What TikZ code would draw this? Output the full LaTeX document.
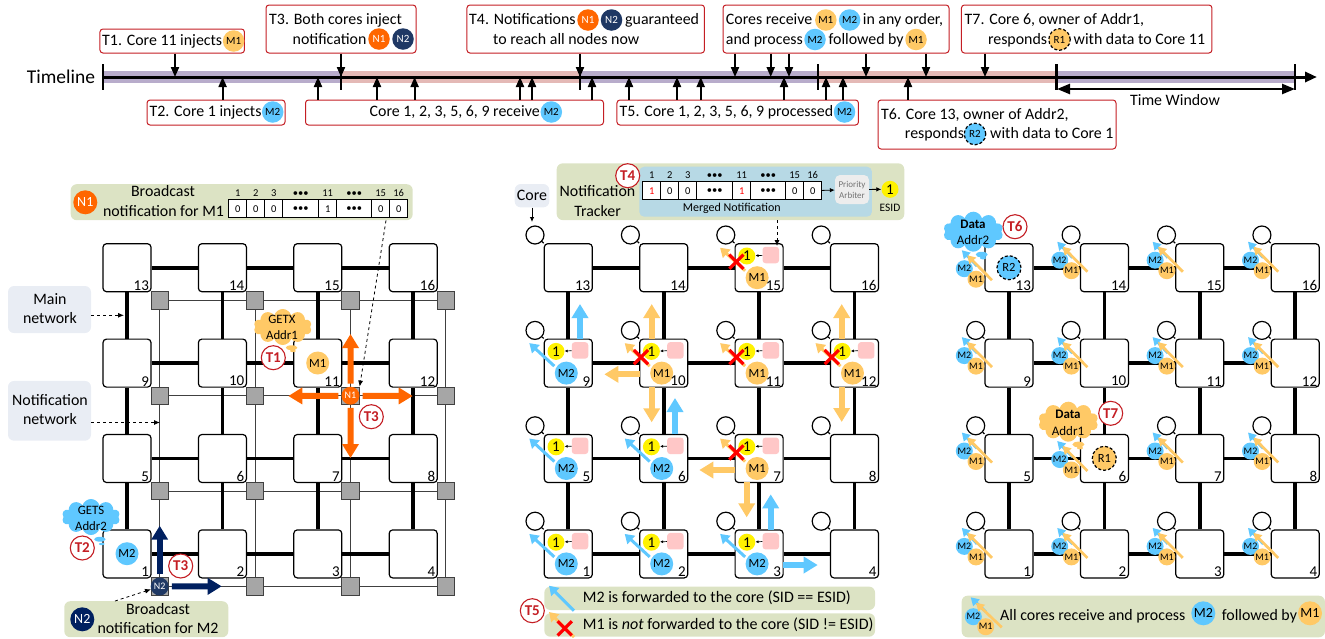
\documentclass[tikz,border=0pt]{standalone}
\usepackage{fontspec}
\setmainfont{Carlito}
\usepackage{tikz}
\usetikzlibrary{calc, shapes, arrows.meta}
\definecolor{cgold}{HTML}{FFC966}
\definecolor{cblue}{HTML}{5FC8FF}
\definecolor{corange}{HTML}{FF6600}
\definecolor{cnavy}{HTML}{002060}
\definecolor{cdark}{HTML}{1F3864}
\definecolor{cpanel}{HTML}{DCE3C4}
\definecolor{cnote}{HTML}{E9EDF4}
\definecolor{cbadge}{HTML}{C41E24}
\definecolor{cinner}{HTML}{B7D9E5}
\definecolor{cpink}{HTML}{FFC7C7}
\definecolor{bandone}{HTML}{B8ACCB}
\definecolor{bandtwo}{HTML}{E4B9B6}

\begin{document}
\begin{tikzpicture}[x=1pt,y=-1pt]
\tikzstyle{event}=[rectangle,draw=cbadge,fill=white,rounded corners=3pt,line width=1pt,inner sep=0]
\tikzstyle{txt}=[anchor=west,inner sep=0,font=\fontsize{15.9}{18}\selectfont,text height=10pt,text depth=1pt]
\tikzstyle{mid}=[anchor=center,inner sep=0,font=\fontsize{15.9}{18}\selectfont,text height=10pt,text depth=1pt]
\tikzstyle{tlmsg}=[circle,minimum size=21.5pt,inner sep=0,font=\fontsize{11}{12}\selectfont]
\tikzstyle{resp}=[circle,minimum size=21.5pt,inner sep=0,draw=black,densely dashed,line width=1.2pt,font=\fontsize{11}{12}\selectfont]
\tikzstyle{tickdown}=[line width=2pt,-{Triangle[length=10pt,width=8pt]}]
\tikzstyle{tickbar}=[line width=2.4pt]
\tikzstyle{router}=[rectangle,draw=black,fill=white,rounded corners=3.5pt,line width=1.2pt,minimum size=48pt,inner sep=0]
\tikzstyle{nodeid}=[anchor=south east,inner sep=0,font=\fontsize{15}{16}\selectfont]
\tikzstyle{mainlink}=[line width=3.8pt]
\tikzstyle{noc}=[rectangle,draw=black!75,fill=black!35,line width=.8pt,minimum size=17.5pt,inner sep=0]
\tikzstyle{noclink}=[line width=.9pt,draw=black!75]
\tikzstyle{block}=[line width=6pt,-{Triangle[length=14pt,width=16pt]}]
\tikzstyle{fwd}=[line width=3pt,-{Triangle[length=9pt,width=11pt]}]
\tikzstyle{badge}=[circle,draw=cbadge,fill=white,line width=1.1pt,minimum size=24pt,inner sep=0,text=cbadge,font=\fontsize{15}{16}\selectfont\bfseries]
\tikzstyle{msg}=[circle,minimum size=23pt,inner sep=0,font=\fontsize{12.5}{14}\selectfont]
\tikzstyle{minimsg}=[circle,minimum size=17pt,inner sep=0,font=\fontsize{10}{11}\selectfont]
\tikzstyle{panel}=[rectangle,fill=cpanel,rounded corners=6pt,inner sep=0]
\tikzstyle{note}=[rectangle,fill=cnote,rounded corners=6pt,inner sep=0]
\tikzstyle{pointer}=[dashed,line width=.8pt,-{Latex[length=6pt,width=5pt]}]
\tikzstyle{solidptr}=[line width=.8pt,-{Latex[length=5pt,width=4.5pt]}]
\tikzstyle{cell}=[rectangle,draw=black,fill=white,line width=.8pt,minimum height=18pt,anchor=north west,inner sep=0,font=\fontsize{10.5}{11}\selectfont]
\tikzstyle{cellhead}=[anchor=base,inner sep=0,font=\fontsize{10.5}{11}\selectfont]
\tikzstyle{bubble}=[cloud callout,cloud puffs=10,cloud ignores aspect,minimum width=58pt,minimum height=36pt,inner sep=0,callout pointer segments=2,callout pointer start size=.3 of callout]
\tikzstyle{small}=[anchor=center,inner sep=0,font=\fontsize{12.8}{14}\selectfont]
\tikzstyle{coreport}=[circle,draw=black,fill=white,line width=1.2pt,minimum size=18pt,inner sep=0]
\tikzstyle{pend}=[rectangle,fill=cpink,rounded corners=3pt,minimum size=16.5pt,inner sep=0]
\tikzstyle{esid}=[circle,fill=yellow,minimum size=17pt,inner sep=0,font=\fontsize{15}{16}\selectfont]
\tikzstyle{crossmark}=[cross out,draw=red,line width=3.2pt,minimum size=11pt,inner sep=0]

\useasboundingbox (0,0) rectangle (1325,638);

\foreach \bx/\bw/\bc in {103/238/bandone,341/239/bandtwo,580/238/bandone,818/238.5/bandtwo,1056.5/238.5/bandone}{
  \fill[\bc] (\bx,71) rectangle ++(\bw,12);
}
\coordinate (tlstart) at (103,77);
\coordinate (tlend) at (1317,77);
\draw[line width=3pt,-{Triangle[length=12pt,width=10pt]}] (tlstart) -- (tlend);
\foreach \x in {103,818,1056.5,1295}{\draw[tickbar] (\x,64) -- (\x,90);}
\foreach \x in {341,580}{\draw[tickbar] (\x,71) -- (\x,90);}
\node[anchor=center,inner sep=0,font=\fontsize{19.5}{20}\selectfont] (tltext) at (61,77) {Timeline};
\node[mid] (twtext) at (1175,101) {Time Window};
\coordinate (twa) at (1057,89);
\coordinate (twb) at (1295,89);
\draw[line width=2.4pt,{Triangle[length=13pt,width=10pt]}-{Triangle[length=13pt,width=10pt]}] (twa) -- (twb);

\node[event,minimum width=144.5pt,minimum height=24pt] (e1) at (172.2,41) {};
\node[event,minimum width=150pt,minimum height=48pt] (e3) at (341,29) {};
\node[event,minimum width=237.5pt,minimum height=48pt] (e4) at (585.7,29) {};
\node[event,minimum width=226pt,minimum height=48pt] (e5) at (836,29) {};
\node[event,minimum width=250.5pt,minimum height=48pt] (e7) at (1086.7,29) {};
\node[event,minimum width=138pt,minimum height=25pt] (e2) at (216,112.5) {};
\node[event,minimum width=298pt,minimum height=25pt] (e8) at (454.5,112.5) {};
\node[event,minimum width=241.5pt,minimum height=25pt] (e9) at (737.7,112.5) {};
\node[event,minimum width=238pt,minimum height=49pt] (e6) at (997,124.5) {};

\foreach \x/\e in {175/e1,341/e3,580/e4,735/e5,770.7/e5,789/e5,866/e5,926/e5,985/e7}{
  \draw[tickdown] (\x,0 |- \e.south) -- (\x,0 |- tlstart);
}
\foreach \x/\e in {222.6/e2,318/e8,377/e8,414.6/e8,520/e8,532/e8,592/e8,629/e9,677/e9,700.7/e9,784/e9,826/e9,843/e9,908/e6}{
  \draw[tickdown] (\x,0 |- \e.north) -- (\x,0 |- tlstart);
}

\node[txt] (t1a) at (102,41) {T1. Core 11 injects};
\node[tlmsg,fill=cgold] (t1m) at (233.6,41) {M1};
\node[txt] (t3a) at (269,20) {T3. Both cores inject};
\node[txt] (t3b) at (292.5,39.5) {notification};
\node[tlmsg,fill=corange,text=white] (t3n) at (379,39) {N1};
\node[tlmsg,fill=cdark,text=white] (t3o) at (403,39) {N2};
\node[txt] (t4a) at (469,20) {T4. Notifications};
\node[tlmsg,fill=corange,text=white] (t4n) at (588,20) {N1};
\node[tlmsg,fill=cdark,text=white] (t4o) at (611.5,20) {N2};
\node[txt] (t4b) at (625,20) {guaranteed};
\node[txt] (t4c) at (493,39.5) {to reach all nodes now};
\node[txt] (t5a) at (725.7,20) {Cores receive};
\node[tlmsg,fill=cgold] (t5m) at (825.8,20) {M1};
\node[tlmsg,fill=cblue] (t5n) at (849.6,20) {M2};
\node[txt] (t5b) at (862.7,20) {in any order,};
\node[txt] (t5c) at (725.7,39.5) {and process};
\node[tlmsg,fill=cblue] (t5o) at (815,39.5) {M2};
\node[txt] (t5d) at (828.4,39.5) {followed by};
\node[tlmsg,fill=cgold] (t5p) at (916,39.5) {M1};
\node[txt] (t7a) at (964.5,20) {T7. Core 6, owner of Addr1,};
\node[txt] (t7b) at (987.8,39.5) {responds};
\node[resp,fill=cgold] (t7r) at (1059.5,39.5) {R1};
\node[txt] (t7c) at (1073.5,39.5) {with data to Core 11};
\node[txt] (t2a) at (149.4,112) {T2. Core 1 injects};
\node[tlmsg,fill=cblue] (t2m) at (272.7,112) {M2};
\node[txt] (t8a) at (369.5,112) {Core 1, 2, 3, 5, 6, 9 receive};
\node[tlmsg,fill=cblue] (t8m) at (551.3,112) {M2};
\node[txt] (t9a) at (619.5,112) {T5. Core 1, 2, 3, 5, 6, 9 processed};
\node[tlmsg,fill=cblue] (t9m) at (844.5,112) {M2};
\node[txt] (t6a) at (881,115.3) {T6. Core 13, owner of Addr2,};
\node[txt] (t6b) at (904.7,134) {responds};
\node[resp,fill=cblue] (t6r) at (975,134) {R2};
\node[txt] (t6c) at (990,134) {with data to Core 1};

\foreach \row in {0,1,2,3}{
  \foreach \col in {0,1,2,3}{
    \pgfmathtruncatemacro{\n}{13-4*\row+\col}
    \node[noc] (s\n) at (159.7+95.4*\col,300.3+95.4*\row) {};
  }
}
\foreach \n in {1,2,3,5,6,7,9,10,11,13,14,15}{
  \pgfmathtruncatemacro{\k}{\n+1}
  \draw[noclink] (s\n) -- (s\k);
}
\foreach \n in {1,...,12}{
  \pgfmathtruncatemacro{\k}{\n+4}
  \draw[noclink] (s\n) -- (s\k);
}
\foreach \m/\ox in {a/127,b/568.3,c/1009}{
  \foreach \row in {0,1,2,3}{
    \foreach \col in {0,1,2,3}{
      \pgfmathtruncatemacro{\n}{13-4*\row+\col}
      \node[router] (\m\n) at (\ox+95.4*\col,267.7+95.4*\row) {};
    }
  }
  \foreach \n in {1,2,3,5,6,7,9,10,11,13,14,15}{
    \pgfmathtruncatemacro{\k}{\n+1}
    \draw[mainlink] (\m\n) -- (\m\k);
  }
  \foreach \n in {1,...,12}{
    \pgfmathtruncatemacro{\k}{\n+4}
    \draw[mainlink] (\m\n) -- (\m\k);
  }
}
\foreach \m in {b,c}{
  \foreach \n in {1,...,16}{
    \node[coreport] (\m p\n) at ($(\m\n)+(-33.3,-32.7)$) {};
    \draw[line width=1.2pt] (\m p\n) -- (\m\n.north west);
  }
}

\node[panel,minimum width=342pt,minimum height=36pt] (pna) at (241.7,202.2) {};
\node[msg,fill=corange,text=white,minimum size=24pt,font=\fontsize{14}{15}\selectfont] (pnan) at (85.3,202.3) {N1};
\node[mid] (pnaa) at (163,192) {Broadcast};
\node[mid] (pnab) at (163.5,212) {notification for M1};
\node[panel,minimum width=164pt,minimum height=36pt] (pnb) at (146.3,619.2) {};
\node[msg,fill=cnavy,text=white,minimum size=24pt,font=\fontsize{14}{15}\selectfont] (pnbn) at (82.3,619.3) {N2};
\node[mid] (pnba) at (158,610) {Broadcast};
\node[mid] (pnbb) at (158,629) {notification for M2};

\node[panel,minimum width=347.6pt,minimum height=56.7pt] (trk) at (730.5,191.7) {};
\node[rectangle,fill=cinner,rounded corners=5pt,minimum width=232.7pt,minimum height=50pt,inner sep=0] (trki) at (755.6,191.7) {};
\node[mid] (trka) at (597.5,192) {Notification};
\node[mid] (trkb) at (597.6,212.3) {Tracker};
\node[small,font=\fontsize{12}{13}\selectfont] (trkc) at (731.7,208.3) {Merged Notification};
\node[badge] (bt4) at (627.7,175.7) {T4};

\foreach \t/\ox/\oy/\first/\hue in {ta/228.3/199.3/0/black,tb/642.3/181.3/1/red}{
  \foreach \i/\cl/\cw/\head/\val/\tc in {1/0/18/1/\first/\hue,2/18/18/2/0/black,3/36/18/3/0/black,4/54/36/\textbullet\textbullet\textbullet/\textbullet\textbullet\textbullet/black,5/90/18/11/1/\hue,6/108/35/\textbullet\textbullet\textbullet/\textbullet\textbullet\textbullet/black,7/143/18/15/0/black,8/161/18/16/0/black}{
    \node[cell,minimum width=\cw pt,text=\tc] (\t c\i) at (\ox+\cl,\oy) {\val};
    \node[cellhead] (\t h\i) at ([yshift=3pt]\t c\i.north) {\head};
  }
}
\node[rectangle,fill=black!7,rounded corners=5pt,minimum width=34pt,minimum height=29pt,inner sep=0,text=black!55,align=center,font=\fontsize{9}{11}\selectfont] (arb) at (852,189.5) {Priority\\Arbiter};
\node[esid] (esd) at (890,189.3) {1};
\node[small,font=\fontsize{11.4}{12}\selectfont] (esdt) at (890,208.3) {ESID};
\draw[solidptr] (tbc8) -- (arb);
\draw[solidptr] (arb) -- (esd);

\node[note,minimum width=83pt,minimum height=47pt] (nmain) at (49.5,309.5) {};
\node[mid] (nmaina) at (50,300) {Main};
\node[mid] (nmainb) at (50,319) {network};
\node[note,minimum width=83pt,minimum height=59.7pt] (nnot) at (49.5,410.8) {};
\node[mid] (nnota) at (50,401) {Notification};
\node[mid] (nnotb) at (50,420) {network};
\node[note,minimum width=34.6pt,minimum height=23.3pt] (ncore) at (532,195.7) {};
\node[mid] (ncoret) at (532,196) {Core};
\coordinate (mainpt) at (124,315.3);
\coordinate (notpt) at (160,422.5);
\coordinate (corept) at (532,222);
\coordinate (trkpt) at (777,246);
\coordinate (tapt) at (386,220);
\coordinate (tbpt) at (115,601);
\draw[pointer] (nmain.east |- mainpt) -- (mainpt);
\draw[pointer] (nnot.east |- notpt) -- (notpt);
\draw[solidptr] (ncore) -- (corept);
\draw[pointer] (trk.south -| trkpt) -- (trkpt);

\node[msg,fill=cgold] (ma) at (317.7,363) {M1};
\node[msg,fill=cblue] (mb) at (127,553.7) {M2};
\node[circle,fill=corange,minimum size=18pt,inner sep=0,text=white,font=\fontsize{10}{11}\selectfont] (cn1) at (s11) {N1};
\node[circle,fill=cdark,minimum size=18pt,inner sep=0,text=white,font=\fontsize{10}{11}\selectfont] (cn2) at (s1) {N2};
\coordinate (nup) at (350.5,334);
\coordinate (nleft) at (288.3,396);
\coordinate (nright) at (412.7,396);
\coordinate (ndown) at (350.5,458);
\coordinate (oup) at (159.7,525.7);
\coordinate (oright) at (221.7,586.3);
\foreach \tgt in {nup,nleft,nright,ndown}{
  \draw[block,draw=corange,fill=corange,shorten <=3pt] (cn1) -- (\tgt);
}
\foreach \tgt in {oup,oright}{
  \draw[block,draw=cnavy,fill=cnavy,shorten <=3pt] (cn2) -- (\tgt);
}
\draw[pointer] (pna.south -| tapt) -- (s11.north east);
\draw[pointer] (pnb.north -| tbpt) -- (cn2);

\node[bubble,fill=cgold,callout absolute pointer={(293,351)}] (cla) at (282.7,327) {};
\node[small] (claa) at (282,319) {GETX};
\node[small] (clab) at (282,335) {Addr1};
\node[badge] (bt1) at (273.3,357.7) {T1};
\node[bubble,fill=cblue,callout absolute pointer={(101.7,544)}] (clb) at (91,517) {};
\node[small] (clba) at (91,510) {GETS};
\node[small] (clbb) at (91,526) {Addr2};
\node[badge] (bt2) at (82.3,548) {T2};
\node[badge] (bt3a) at (371.3,416.7) {T3};
\node[badge] (bt3b) at (180.7,566) {T3};

\foreach \n/\hue/\txt in {1/cblue/M2,2/cblue/M2,3/cblue/M2,5/cblue/M2,6/cblue/M2,9/cblue/M2,7/cgold/M1,10/cgold/M1,11/cgold/M1,12/cgold/M1,15/cgold/M1}{
  \coordinate (fs\n) at ($(b\n)+(-14,3)$);
  \coordinate (ft\n) at ($(b\n)+(-39,-20)$);
  \draw[fwd,draw=\hue,fill=\hue] (fs\n) -- (ft\n);
  \node[pend] (pk\n) at ($(b\n)+(11.7,-12.7)$) {};
  \node[esid] (ys\n) at ($(b\n)+(-12.3,-11.7)$) {1};
  \draw[line width=.7pt,-{Latex[length=3pt,width=3pt]}] (pk\n) -- (ys\n);
  \node[msg,fill=\hue] (mg\n) at ($(b\n)+(-2,10)$) {\txt};
}
\foreach \n in {7,10,11,12,15}{
  \node[crossmark] (xm\n) at ($(b\n)+(-22.7,-6)$) {};
}
\foreach \p/\hue/\sx/\sy/\ex/\ey in {a/cblue/580/339.3/580/304,b/cgold/651.7/339/651.7/304,c/cgold/639.7/374.3/604.3/374.3,d/cgold/651.7/386.7/651.7/422.3,e/cgold/841.7/339/841.7/304,f/cgold/841.7/387/841.7/422,g/cblue/675/434.3/675/398,h/cgold/735/470/699.3/470,i/cgold/746.7/482.3/746.7/517.3,j/cblue/770.7/530/770.7/494.3,k/cblue/782.7/565/817.7/565}{
  \coordinate (bs\p) at (\sx,\sy);
  \coordinate (be\p) at (\ex,\ey);
  \draw[block,draw=\hue,fill=\hue] (bs\p) -- (be\p);
}

\node[panel,minimum width=330.7pt,minimum height=23.4pt] (lga) at (709.7,598.3) {};
\node[panel,minimum width=330.7pt,minimum height=23.4pt] (lgb) at (709.7,625) {};
\node[txt,font=\fontsize{16}{18}\selectfont] (lgat) at (582.7,598) {M2 is forwarded to the core (SID == ESID)};
\node[txt,font=\fontsize{16}{18}\selectfont] (lgbt) at (582.7,625) {M1 is \textit{not} forwarded to the core (SID != ESID)};
\coordinate (lgaa) at (574,610.7);
\coordinate (lgab) at (549,585.7);
\coordinate (lgba) at (574,637);
\coordinate (lgbb) at (549,612);
\draw[fwd,draw=cblue,fill=cblue] (lgaa) -- (lgab);
\draw[fwd,draw=cgold,fill=cgold] (lgba) -- (lgbb);
\node[crossmark] (lgx) at (564.7,628.3) {};
\node[badge] (bt5) at (532.3,610.7) {T5};

\foreach \n/\d in {1/0,2/0,3/0,4/0,5/0,6/8.5,7/0,8/0,9/0,10/0,11/0,12/0,13/8.5,14/0,15/0,16/0}{
  \coordinate (cbs\n) at ($(c\n)+(-32,-10+\d)$);
  \coordinate (cbt\n) at ($(c\n)+(-47.2,-26+\d)$);
  \coordinate (cgs\n) at ($(c\n)+(-17,4+\d)$);
  \coordinate (cgt\n) at ($(c\n)+(-41.8,-21+\d)$);
  \draw[line width=2.7pt,draw=cblue,fill=cblue,-{Triangle[length=8pt,width=9pt]}] (cbs\n) -- (cbt\n);
  \node[minimsg,fill=cblue] (cmb\n) at ($(c\n)+(-44.7,-7.5+\d)$) {M2};
  \node[minimsg,fill=cgold] (cmg\n) at ($(c\n)+(-33,3+\d)$) {M1};
  \draw[line width=2.7pt,draw=cgold,fill=cgold,-{Triangle[length=8pt,width=9pt]}] (cgs\n) -- (cgt\n);
}
\node[resp,fill=cblue,minimum size=24pt,font=\fontsize{12.5}{13}\selectfont] (rb) at (1009,267.7) {R2};
\node[resp,fill=cgold,minimum size=24pt,font=\fontsize{12.5}{13}\selectfont] (ra) at (1104.3,458.3) {R1};
\node[bubble,fill=cblue,minimum width=60pt,minimum height=40pt,callout absolute pointer={(983,258)}] (clc) at (973.3,231.7) {};
\node[small,font=\fontsize{13}{14}\selectfont\bfseries] (clca) at (973,224) {Data};
\node[small,font=\fontsize{13}{14}\selectfont] (clcb) at (973,240) {Addr2};
\node[badge] (bt6) at (1015,226.7) {T6};
\node[bubble,fill=cgold,minimum width=60pt,minimum height=40pt,callout absolute pointer={(1080,448)}] (cld) at (1068.3,421.7) {};
\node[small,font=\fontsize{13}{14}\selectfont\bfseries] (clda) at (1068,414.5) {Data};
\node[small,font=\fontsize{13}{14}\selectfont] (cldb) at (1068,431) {Addr1};
\node[badge] (bt7) at (1110.7,413.3) {T7};

\node[panel,minimum width=363.3pt,minimum height=41.6pt] (lgc) at (1143.3,616.5) {};
\coordinate (lgcg) at (1001.7,627.3);
\coordinate (lgch) at (976,602.7);
\coordinate (lgci) at (986,612);
\coordinate (lgcj) at (970.7,597.3);
\draw[line width=2.7pt,draw=cblue,fill=cblue,-{Triangle[length=8pt,width=9pt]}] (lgci) -- (lgcj);
\node[minimsg,fill=cblue] (lgcb) at (973.3,616.7) {M2};
\node[minimsg,fill=cgold] (lgca) at (985.7,626.7) {M1};
\draw[line width=2.7pt,draw=cgold,fill=cgold,-{Triangle[length=8pt,width=9pt]}] (lgcg) -- (lgch);
\node[txt] (lgct) at (1000,616) {All cores receive and process};
\node[msg,fill=cblue,minimum size=24pt,font=\fontsize{14}{15}\selectfont] (lgcm) at (1203.3,613.3) {M2};
\node[txt] (lgcf) at (1221.7,616) {followed by};
\node[msg,fill=cgold,minimum size=24pt,font=\fontsize{14}{15}\selectfont] (lgcn) at (1310,613.3) {M1};

\foreach \m in {a,b,c}{
  \foreach \n in {1,...,16}{
    \node[nodeid] (\m id\n) at ($(\m\n.south east)+(-2.5,-1.5)$) {\n};
  }
}
\end{tikzpicture}
\end{document}
